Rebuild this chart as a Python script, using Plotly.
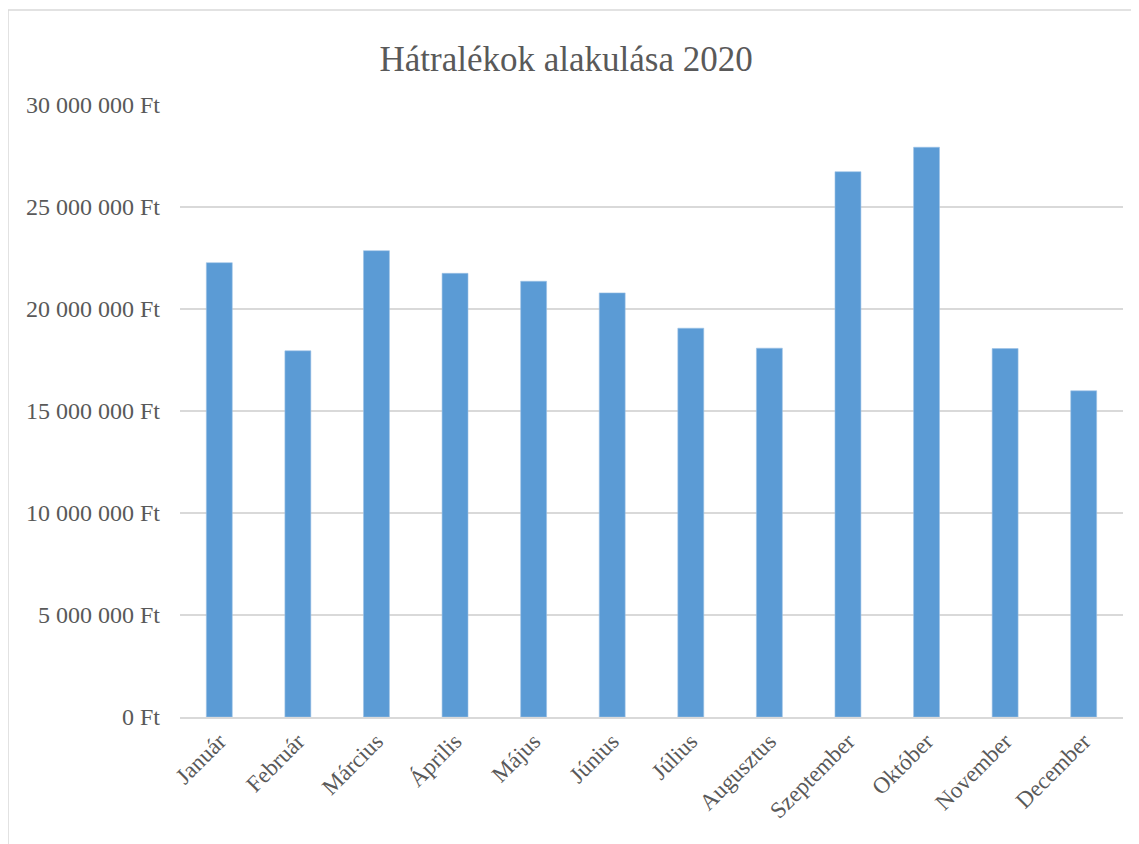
import plotly.graph_objects as go

# Monthly arrears 2020 (Ft)
months = ['Január', 'Február', 'Március', 'Április', 'Május', 'Június',
          'Július', 'Augusztus', 'Szeptember', 'Október', 'November', 'December']
arrears = [22270000, 17950000, 22860000, 21750000, 21360000, 20790000,
           19060000, 18080000, 26730000, 27930000, 18060000, 15990000]

y_ticks = [0, 5000000, 10000000, 15000000, 20000000, 25000000, 30000000]
y_tick_labels = ['0 Ft', '5 000 000 Ft', '10 000 000 Ft', '15 000 000 Ft',
                 '20 000 000 Ft', '25 000 000 Ft', '30 000 000 Ft']

font_name = 'Liberation Serif'
grey = '#595959'

# plot area in figure pixels (the page body adds an 8px offset)
L, T, R, B = 172, 97, 24, 135
plot_w = 1139 - L - R
plot_h = 844 - T - B

fig = go.Figure()
fig.add_trace(go.Bar(
    x=months,
    y=arrears,
    marker=dict(color='#5B9BD5', line=dict(color='#9DC3E6', width=0.6)),
    width=0.33,
))

fig.update_layout(
    width=1139,
    height=844,
    margin=dict(l=L, r=R, t=T, b=B, autoexpand=False),
    paper_bgcolor='white',
    plot_bgcolor='white',
    showlegend=False,
    title=dict(
        text='Hátralékok alakulása 2020',
        font=dict(family=font_name, size=35, color=grey),
        x=0.490, xref='container', xanchor='center',
        y=1 - 51 / 844, yref='container', yanchor='middle',
    ),
    font=dict(family=font_name, color=grey),
)

fig.update_xaxes(
    automargin=False,
    tickangle=-45,
    tickfont=dict(family=font_name, size=23, color=grey),
    showgrid=False,
    showline=True,
    linecolor='#d9d9d9',
    linewidth=1.5,
    ticks='',
)

fig.update_yaxes(
    automargin=False,
    range=[0, 30000000],
    tickvals=y_ticks,
    ticktext=y_tick_labels,
    tickfont=dict(family=font_name, size=24, color=grey),
    showgrid=True,
    gridcolor='#d9d9d9',
    gridwidth=1.5,
    zeroline=False,
    showline=False,
    ticks='',
    ticklabelstandoff=19,
)

# chart frame (light grey border of the embedded chart)
fig.add_shape(type='rect', xref='paper', yref='paper',
              x0=(0 - L) / plot_w, x1=1.2,
              y0=-0.3, y1=(plot_h - (2 - T)) / plot_h,
              line=dict(color='#d9d9d9', width=1.5), layer='below')

fig.write_html('out.html')
